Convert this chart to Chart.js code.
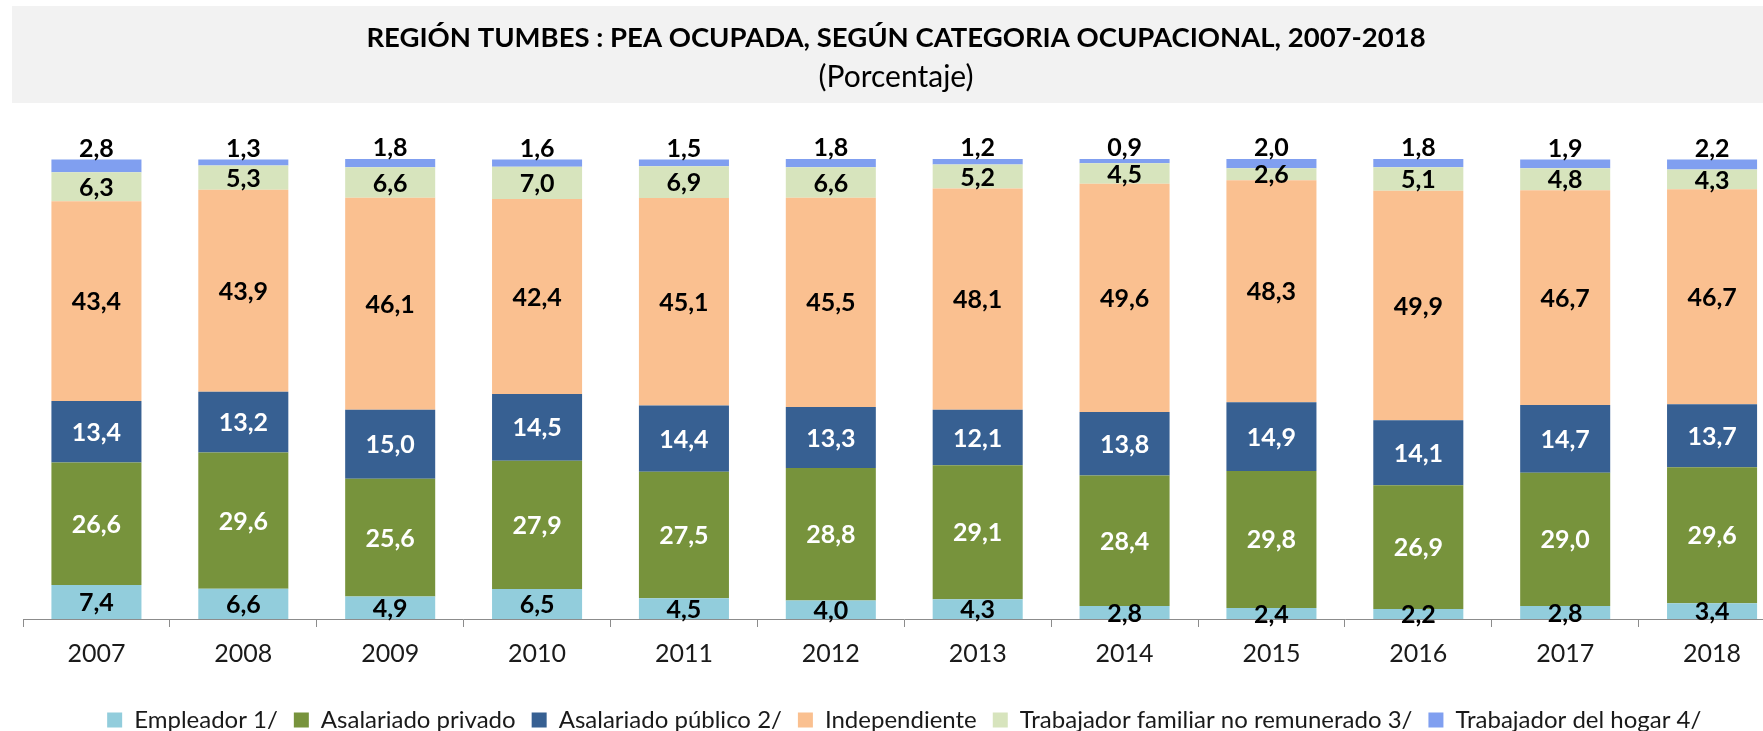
<!DOCTYPE html>
<html>
<head>
<meta charset="utf-8">
<script src="https://cdn.jsdelivr.net/npm/chart.js@4.4.1/dist/chart.umd.min.js"></script>
<style>
  html, body { margin: 0; padding: 0; background: #fff; overflow: hidden; }
  #wrap { width: 1792px; height: 742px; }
</style>
</head>
<body>
<div id="wrap"><canvas id="chart" width="1792" height="742"></canvas></div>
<script>
const TITLE = "REGIÓN TUMBES : PEA OCUPADA, SEGÚN CATEGORIA OCUPACIONAL, 2007-2018";
const SUBTITLE = "(Porcentaje)";

const years = ["2007", "2008", "2009", "2010", "2011", "2012", "2013", "2014", "2015", "2016", "2017", "2018"];
const seriesNames = [
  "Empleador 1/",
  "Asalariado privado",
  "Asalariado público 2/",
  "Independiente",
  "Trabajador familiar no remunerado 3/",
  "Trabajador del hogar 4/",
];
const empleador = [7.4, 6.6, 4.9, 6.5, 4.5, 4.0, 4.3, 2.8, 2.4, 2.2, 2.8, 3.4];
const asalariadoPrivado = [26.6, 29.6, 25.6, 27.9, 27.5, 28.8, 29.1, 28.4, 29.8, 26.9, 29.0, 29.6];
const asalariadoPublico = [13.4, 13.2, 15.0, 14.5, 14.4, 13.3, 12.1, 13.8, 14.9, 14.1, 14.7, 13.7];
const independiente = [43.4, 43.9, 46.1, 42.4, 45.1, 45.5, 48.1, 49.6, 48.3, 49.9, 46.7, 46.7];
const familiarNoRemunerado = [6.3, 5.3, 6.6, 7.0, 6.9, 6.6, 5.2, 4.5, 2.6, 5.1, 4.8, 4.3];
const trabajadorHogar = [2.8, 1.3, 1.8, 1.6, 1.5, 1.8, 1.2, 0.9, 2.0, 1.8, 1.9, 2.2];

const seriesValues = [empleador, asalariadoPrivado, asalariadoPublico, independiente, familiarNoRemunerado, trabajadorHogar];
const barColors = ["#92cddc", "#77933c", "#376092", "#fac090", "#d7e4bd", "#809ff0"];
const labelColors = ["#000", "#fff", "#fff", "#000", "#000", "#000"];

const fmt = (v) => v.toFixed(1).replace(".", ",");

// grey band behind the title, title and subtitle
const titleBand = {
  id: "titleBand",
  beforeDraw(chart) {
    const { ctx, width } = chart;
    ctx.save();
    ctx.fillStyle = "#f2f2f2";
    ctx.fillRect(12, 6, width - 12, 97);
    ctx.fillStyle = "#000";
    ctx.textAlign = "center";
    ctx.textBaseline = "middle";
    ctx.font = "bold 27.5px Lato";
    ctx.fillText(TITLE, 896, 38);
    ctx.font = "30px Lato";
    ctx.fillText(SUBTITLE, 896, 77);
    ctx.restore();
  },
};

// value labels: centered in each segment, last series above the bar
const valueLabels = {
  id: "valueLabels",
  afterDatasetsDraw(chart) {
    const { ctx } = chart;
    const last = chart.data.datasets.length - 1;
    ctx.save();
    ctx.font = "bold 25px Lato";
    ctx.textAlign = "center";
    ctx.textBaseline = "middle";
    chart.data.datasets.forEach((ds, i) => {
      ctx.fillStyle = labelColors[i];
      chart.getDatasetMeta(i).data.forEach((bar, j) => {
        const y = i === last ? bar.y - 11 : (bar.y + bar.base) / 2 + 1;
        ctx.fillText(fmt(ds.data[j]), bar.x, y);
      });
    });
    ctx.restore();
  },
};

new Chart(document.getElementById("chart"), {
  type: "bar",
  data: {
    labels: years,
    datasets: seriesValues.map((values, i) => ({
      label: seriesNames[i],
      data: values,
      backgroundColor: barColors[i],
      borderWidth: 0,
      barPercentage: 1,
      categoryPercentage: 0.613,
    })),
  },
  options: {
    responsive: false,
    animation: false,
    layout: {
      padding: { top: 159, left: 23, right: 6.5, bottom: 0 },
    },
    scales: {
      x: {
        stacked: true,
        grid: {
          display: true,
          drawOnChartArea: false,
          drawTicks: true,
          tickLength: 8,
          color: "#8c8c8c",
          offset: true,
        },
        border: { display: true, color: "#8c8c8c", width: 1 },
        ticks: {
          color: "#1a1a1a",
          padding: 12,
          maxRotation: 0,
          font: { family: "Lato", size: 25 },
        },
        afterFit(scale) {
          scale.height += 11;
        },
      },
      y: {
        stacked: true,
        display: false,
        min: 0,
        max: 100,
      },
    },
    plugins: {
      title: { display: false },
      tooltip: { enabled: false },
      legend: {
        position: "bottom",
        labels: {
          boxWidth: 15,
          boxHeight: 15,
          padding: 16,
          color: "#1a1a1a",
          font: { family: "Lato", size: 24 },
        },
      },
    },
  },
  plugins: [titleBand, valueLabels],
});
</script>
</body>
</html>
